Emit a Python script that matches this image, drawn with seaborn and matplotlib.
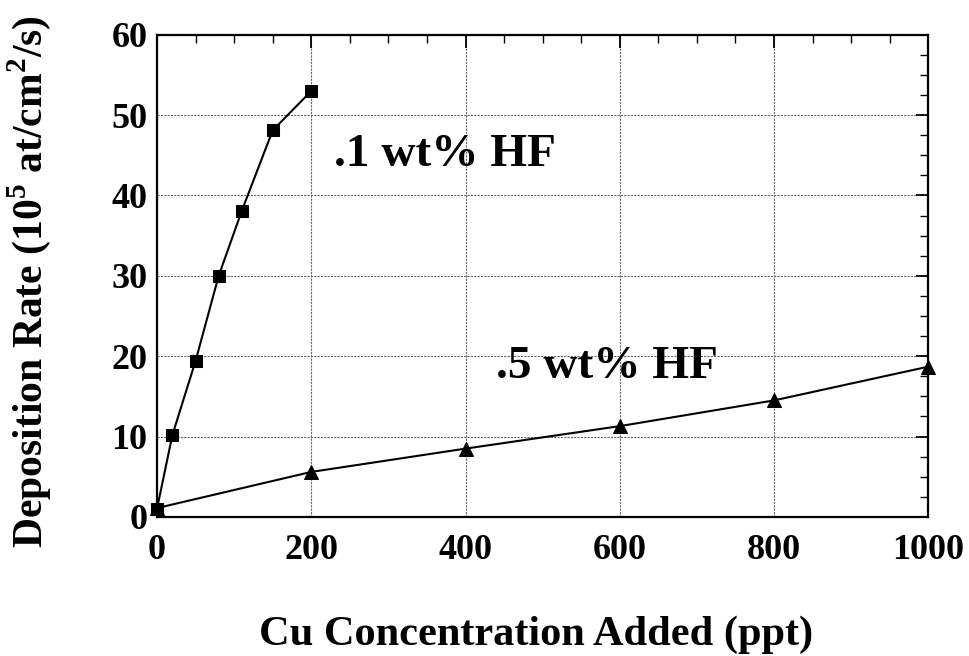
import matplotlib
matplotlib.use("Agg")
import matplotlib.pyplot as plt
import seaborn as sns
import pandas as pd
from matplotlib.ticker import MultipleLocator

# Data
cu_01 = [0, 20, 50, 80, 110, 150, 200]
rate_01 = [1.0, 10.2, 19.4, 30.0, 38.1, 48.1, 53.0]
cu_05 = [0, 200, 400, 600, 800, 1000]
rate_05 = [1.1, 5.6, 8.5, 11.3, 14.5, 18.7]
label_01 = ".1 wt% HF"
label_05 = ".5 wt% HF"
xlabel = "Cu Concentration Added (ppt)"
ylabel = r"Deposition Rate (10$^{\mathbf{5}}$ at/cm$^{\mathbf{2}}$/s)"

sns.set_theme(style="white")
plt.rcParams['font.family'] = ['Liberation Serif', 'DejaVu Serif']
plt.rcParams['mathtext.fontset'] = 'custom'
plt.rcParams['mathtext.rm'] = 'Liberation Serif:bold'
plt.rcParams['mathtext.bf'] = 'Liberation Serif:bold'
for k in ['text.color', 'axes.labelcolor', 'xtick.color', 'ytick.color']:
    plt.rcParams[k] = 'black'

fig = plt.figure(figsize=(9.69, 6.56), dpi=100)
ax = fig.add_axes([0.162, 0.212, 0.796, 0.735])

df1 = pd.DataFrame({"x": cu_01, "y": rate_01})
df2 = pd.DataFrame({"x": cu_05, "y": rate_05})
sns.lineplot(data=df2, x="x", y="y", ax=ax, color="black", marker="^",
             markersize=10, markeredgecolor="black", linewidth=1.5, clip_on=False)
sns.lineplot(data=df1, x="x", y="y", ax=ax, color="black", marker="s",
             markersize=9, markeredgecolor="black", linewidth=1.5, clip_on=False)

ax.set_xlim(0, 1000)
ax.set_ylim(0, 60)
ax.xaxis.set_major_locator(MultipleLocator(200))
ax.xaxis.set_minor_locator(MultipleLocator(50))
ax.yaxis.set_major_locator(MultipleLocator(10))
ax.yaxis.set_minor_locator(MultipleLocator(2.5))
ax.tick_params(which="both", direction="in", top=True, right=True,
               color="black")
ax.tick_params(which="major", length=9, width=1.3, labelsize=26)
ax.tick_params(axis="x", which="major", pad=12)
ax.tick_params(axis="y", which="major", pad=7)
ax.tick_params(which="minor", length=6, width=1.0)
for lab in ax.get_xticklabels() + ax.get_yticklabels():
    lab.set_fontweight("bold")
ax.grid(True, which="major", color="#666666", linestyle=(0, (2, 1)), linewidth=0.8)
for s in ax.spines.values():
    s.set_color("black")
    s.set_linewidth(1.6)

ax.set_xlabel(xlabel, fontsize=30.5, fontweight="bold")
ax.xaxis.set_label_coords(0.491, -0.205)
ax.set_ylabel(ylabel, fontsize=30, fontweight="bold")
ax.yaxis.set_label_coords(-0.135, 0.488)

ax.text(230, 45, label_01, fontsize=34, fontweight="bold", ha="left", va="center")
ax.text(440, 18.6, label_05, fontsize=34, fontweight="bold", ha="left", va="center")

fig.savefig("out.png", dpi=100)
